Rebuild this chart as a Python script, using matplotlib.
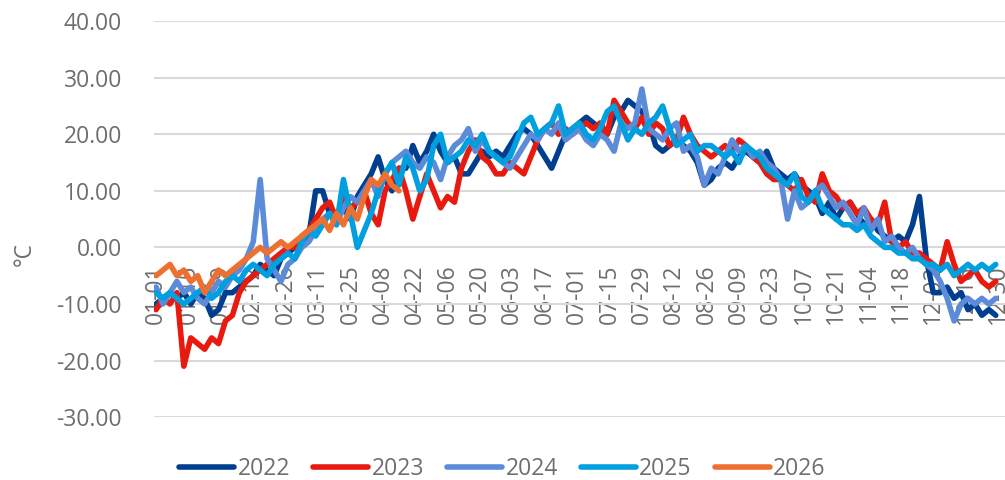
import numpy as np
import matplotlib.pyplot as plt
import datetime as dt

from matplotlib import rc

rc('font', **{'family': ['Open Sans', 'DejaVu Sans'], 'size': 16})

step = 3

t2022 = [-10, -9, -8, -9, -8, -10, -8, -9, -12, -11,
         -8, -8, -7, -6, -5, -3, -4, -5, -2, -1,
         0, 1, 2, 10, 10, 6, 5, 7, 5, 9,
         11, 13, 16, 12, 10, 14, 14, 18, 15, 17,
         20, 17, 15, 16, 13, 13, 15, 17, 16, 17,
         16, 18, 20, 21, 20, 18, 16, 14, 17, 20,
         21, 22, 23, 22, 21, 20, 23, 24, 26, 25,
         24, 22, 18, 17, 18, 19, 18, 17, 15, 11,
         12, 14, 15, 14, 16, 17, 16, 15, 17, 14,
         13, 12, 13, 11, 10, 9, 6, 8, 5, 7,
         8, 6, 4, 5, 3, 2, 1, 2, 1, 4,
         9, -2, -8, -8, -7, -9, -8, -11, -10, -12, -11, -12]

t2023 = [-11, -9, -10, -8, -21, -16, -17, -18, -16, -17,
         -13, -12, -8, -6, -5, -4, -3, -2, -1, 0,
         0, 2, 3, 5, 7, 8, 5, 9, 7, 8,
         10, 6, 4, 10, 12, 14, 10, 5, 9, 13,
         10, 7, 9, 8, 14, 17, 19, 16, 15, 13,
         13, 15, 14, 13, 16, 19, 21, 22, 20, 21,
         20, 21, 22, 21, 22, 20, 26, 24, 22, 21,
         23, 20, 22, 21, 18, 19, 23, 20, 18, 17,
         16, 17, 18, 17, 19, 18, 16, 15, 13, 12,
         12, 11, 10, 12, 9, 8, 13, 10, 9, 7,
         8, 6, 7, 5, 4, 8, 1, 0, 1, -1,
         -1, -2, -3, -4, 1, -3, -6, -5, -4, -6, -7, -6]

t2024 = [-7, -10, -8, -6, -8, -7, -9, -10, -8, -6,
         -7, -5, -4, -2, 1, 12, -2, -4, -6, -3,
         -2, 0, 1, 3, 5, 6, 4, 7, 9, 8,
         10, 12, 9, 13, 15, 16, 17, 15, 14, 16,
         15, 12, 16, 18, 19, 21, 17, 19, 17, 16,
         15, 14, 16, 18, 20, 19, 21, 20, 22, 19,
         20, 21, 19, 18, 20, 19, 17, 22, 21, 22,
         28, 21, 20, 19, 21, 22, 17, 18, 16, 11,
         14, 13, 16, 19, 17, 18, 16, 17, 15, 14,
         12, 5, 10, 7, 8, 10, 11, 9, 7, 8,
         6, 4, 7, 3, 5, 1, 2, 0, -1, 0,
         -2, -3, -4, -6, -9, -13, -10, -9, -10, -9, -10, -9]

t2025 = [-8, -9, -8, -9, -10, -9, -8, -7, -9, -8,
         -6, -5, -6, -4, -3, -4, -5, -3, -2, -1,
         -2, 1, 3, 2, 4, 6, 4, 12, 6, 0,
         3, 6, 10, 13, 15, 11, 16, 14, 10, 12,
         18, 20, 15, 16, 17, 19, 18, 20, 17, 16,
         15, 16, 19, 22, 23, 20, 21, 22, 25, 20,
         21, 22, 20, 19, 21, 24, 25, 22, 19, 21,
         20, 22, 23, 25, 21, 18, 19, 20, 17, 18,
         18, 17, 16, 17, 15, 18, 17, 16, 14, 13,
         12, 11, 13, 9, 8, 10, 7, 6, 5, 4,
         4, 3, 4, 2, 1, 0, 0, -1, -1, -2,
         -2, -3, -3, -4, -3, -5, -4, -3, -4, -3, -4, -3]

t2026 = [-5, -4, -3, -5, -4, -6, -5, -8, -6, -4,
         -5, -4, -3, -2, -1, 0, -1, 0, 1, 0,
         1, 2, 3, 4, 5, 3, 6, 4, 7, 5,
         9, 12, 11, 13, 11, 10]

years = ['2022', '2023', '2024', '2025', '2026']
series = [t2022, t2023, t2024, t2025, t2026]
colors = ['#003f8f', '#e8190e', '#5b8bd9', '#00a0e0', '#ed7030']

# category labels MM-DD, every 14 days
start = dt.date(2024, 1, 1)
cats = [(start + dt.timedelta(days=d)).strftime('%m-%d') for d in range(366)]
tick_pos = list(range(0, 366, 14))
tick_lab = [cats[p] for p in tick_pos]

fig = plt.figure(figsize=(10.05, 4.8), dpi=100)
ax = fig.add_axes([0.153, 0.131, 0.847, 0.825])

for yr, vals, c in zip(years, series, colors):
    xs = np.arange(len(vals)) * step
    ax.plot(xs, vals, color=c, lw=4.0, label=yr, solid_capstyle='round', solid_joinstyle='round')

for s in ax.spines.values():
    s.set_visible(False)
# x axis crosses at 0, labels hang below it
ax.spines['bottom'].set_position(('data', 0))

ax.set_ylim(-30, 40)
ax.set_yticks(np.arange(-30, 41, 10))
ax.set_yticklabels(['%.2f' % v for v in np.arange(-30, 41, 10)])
ax.set_xlim(-1, 367)
ax.set_xticks(tick_pos)
ax.set_xticklabels(tick_lab)

ax.grid(axis='y', color='#d9d9d9', lw=1.5)
ax.set_axisbelow(True)
ax.tick_params(axis='y', length=0, pad=23, colors='#6e6e6e', labelsize=16.5)
ax.tick_params(axis='x', length=0, pad=12, colors='#6e6e6e', labelsize=16.5, labelrotation=90)

fig.text(0.025, 0.47, '°C', rotation=90, color='#6e6e6e', fontsize=16.5, ha='center', va='center')

ax.legend(loc='lower center', bbox_to_anchor=(0.5, -0.03), bbox_transform=fig.transFigure,
          ncol=5, frameon=False, fontsize=16.5, handlelength=2.4, handletextpad=0.15,
          columnspacing=1.0, labelcolor='#6e6e6e', borderpad=0.1)

fig.savefig('out.png')
